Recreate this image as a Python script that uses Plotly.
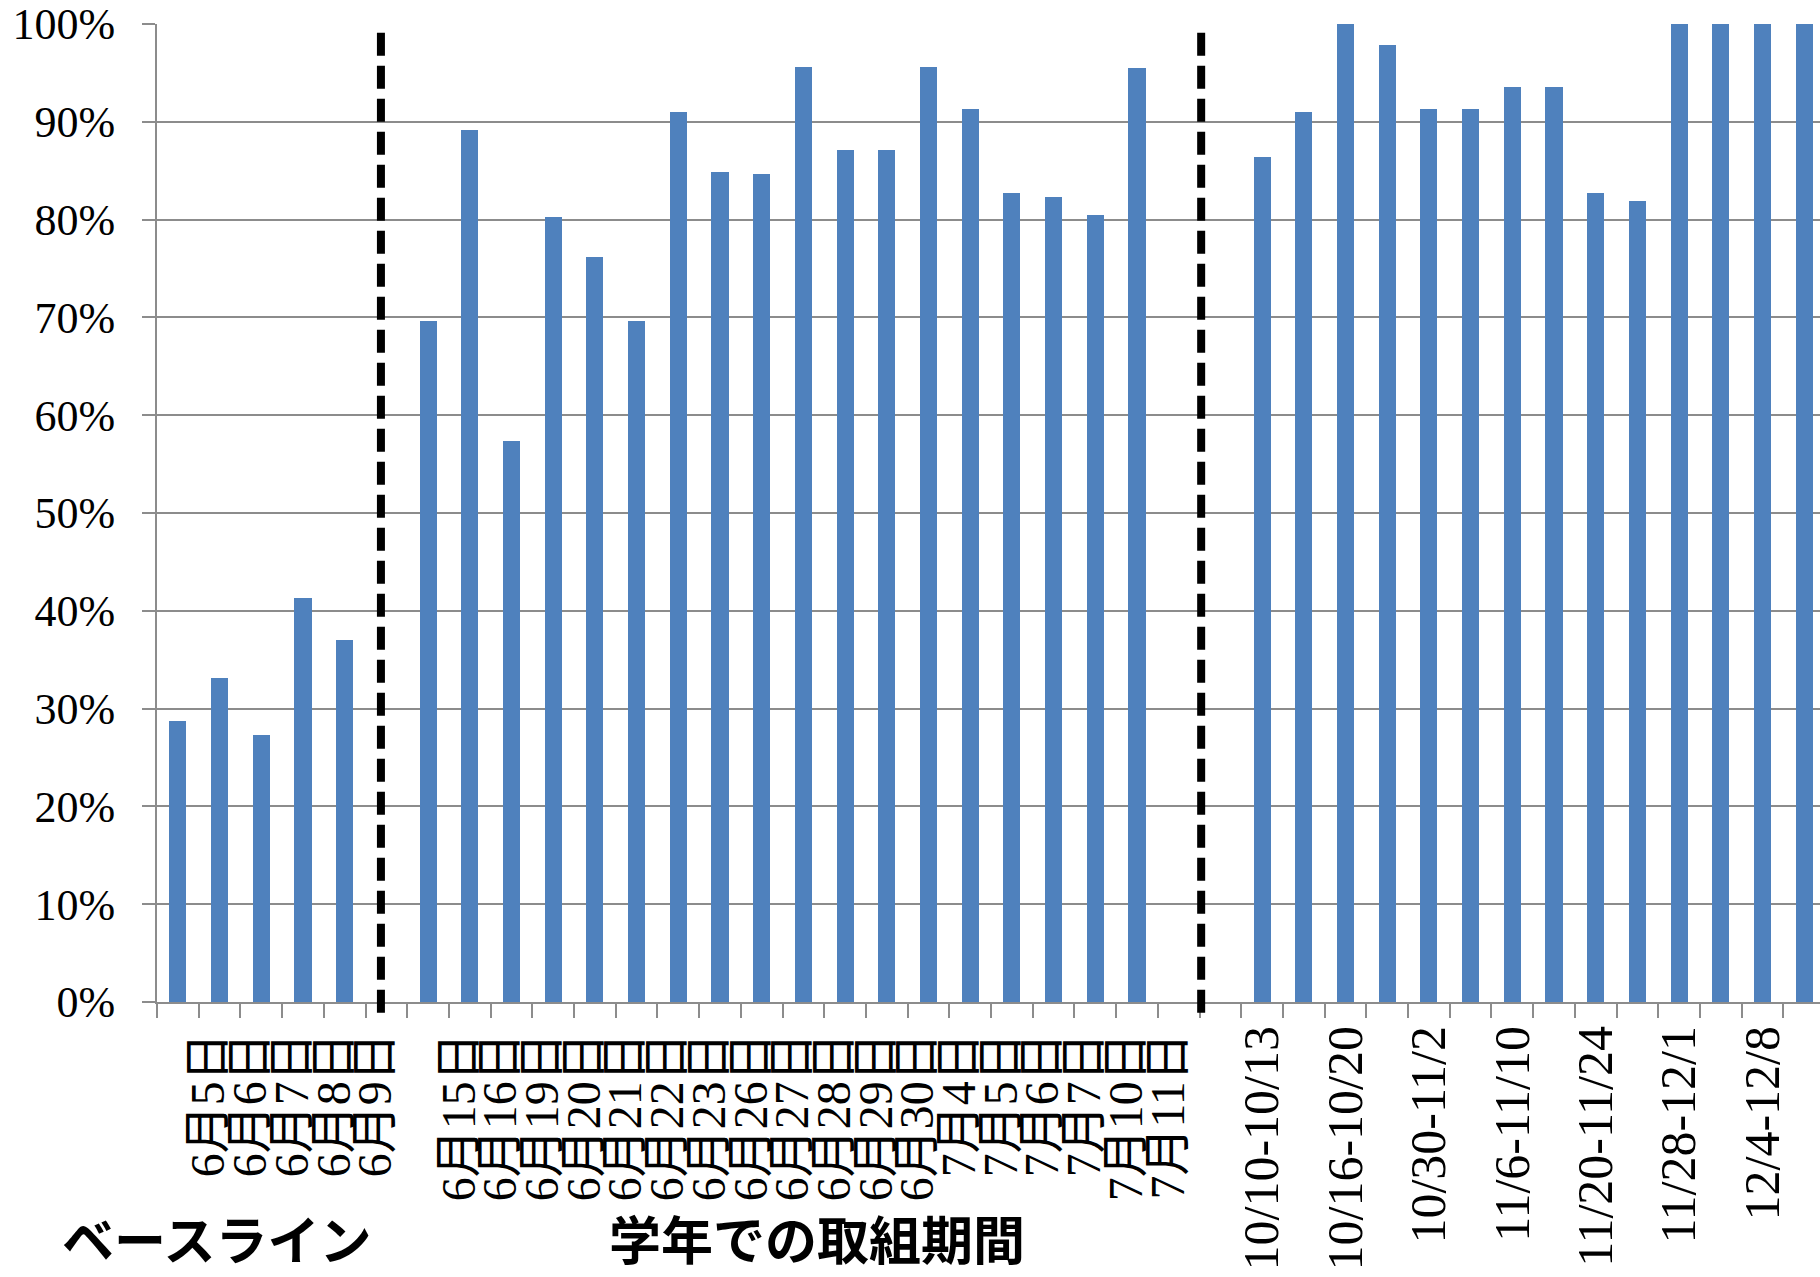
import numpy as np
import plotly.graph_objects as go

# ---------------- data ----------------
baseline_labels = ["6月5日", "6月6日", "6月7日", "6月8日", "6月9日"]
baseline_values = [28.7, 33.1, 27.3, 41.3, 37.0]

grade_labels = ["6月15日", "6月16日", "6月19日", "6月20日", "6月21日", "6月22日",
                "6月23日", "6月26日", "6月27日", "6月28日", "6月29日", "6月30日",
                "7月4日", "7月5日", "7月6日", "7月7日", "7月10日", "7月11日"]
grade_values = [69.6, 89.2, 57.4, 80.3, 76.2, 69.6, 91.0, 84.9, 84.7, 95.6,
                87.1, 87.1, 95.6, 91.3, 82.7, 82.3, 80.5, 95.5]

period_labels = ["10/10-10/13", "", "10/16-10/20", "", "10/30-11/2", "",
                 "11/6-11/10", "", "11/20-11/24", "", "11/28-12/1", "",
                 "12/4-12/8", ""]
period_values = [86.4, 91.0, 100, 97.9, 91.3, 91.3, 93.6, 93.6, 82.7, 81.9,
                 100, 100, 100, 100]

group_titles = ["ベースライン", "学年での取組期間"]
y_tick_values = [0, 10, 20, 30, 40, 50, 60, 70, 80, 90, 100]

gap_after_baseline = 1
gap_after_grade = 2
divider_positions = [4.87, 24.54]

# ---------------- assemble ----------------
labels = (baseline_labels + [""] * gap_after_baseline + grade_labels
          + [""] * gap_after_grade + period_labels)
values = (baseline_values + [None] * gap_after_baseline + grade_values
          + [None] * gap_after_grade + period_values)
pos = np.arange(len(labels))
n_first = len(baseline_labels) + gap_after_baseline + len(grade_labels) + gap_after_grade

x_range = [-0.5, 39.38]

BLUE = "#4F81BD"
GRID = "#8C8C8C"

fig = go.Figure()
# school-year sections on the first x axis
fig.add_trace(go.Bar(x=pos[:n_first], y=values[:n_first], width=0.41,
                     marker=dict(color=BLUE, line=dict(width=0)),
                     showlegend=False, hoverinfo="skip", xaxis="x", yaxis="y"))
# autumn period section on the overlaid x axis (own tick label style)
fig.add_trace(go.Bar(x=pos[n_first:], y=values[n_first:], width=0.41,
                     marker=dict(color=BLUE, line=dict(width=0)),
                     showlegend=False, hoverinfo="skip", xaxis="x2", yaxis="y"))

first_vals = [int(p) for p in pos[:n_first]]
first_text = labels[:n_first]
second_vals = [int(p) for p, l in zip(pos, labels) if p >= n_first and l]
second_text = [l for p, l in zip(pos, labels) if p >= n_first and l]

fig.update_layout(
    width=1820, height=1277,
    margin=dict(l=157, r=0, t=24, b=275),
    plot_bgcolor="white", paper_bgcolor="white",
    bargap=0, barmode="overlay",
    xaxis=dict(
        range=x_range, showgrid=False, zeroline=False,
        showline=True, linecolor=GRID, linewidth=2,
        tickmode="array", tickvals=first_vals, ticktext=first_text,
        ticks="", tickangle=-90,
        tickfont=dict(family="Liberation Serif, Noto Sans CJK JP", size=48, color="black"),
        ticklabelstandoff=10, ticklabelshift=31,
        minor=dict(tickmode="array", tickvals=list(np.arange(-0.5, len(labels), 1.0)),
                   ticks="outside", ticklen=14, tickcolor=GRID, tickwidth=1.5, showgrid=False),
    ),
    xaxis2=dict(
        overlaying="x", anchor="y", side="bottom", range=x_range,
        showgrid=False, zeroline=False, showline=False, ticks="",
        tickmode="array", tickvals=second_vals, ticktext=second_text,
        tickangle=-90,
        tickfont=dict(family="Liberation Serif", size=50, color="black"),
        ticklabelstandoff=13,
    ),
    yaxis=dict(
        range=[0, 100], tickmode="array", tickvals=y_tick_values,
        ticktext=[f"{v}%" for v in y_tick_values],
        showgrid=True, gridcolor=GRID, gridwidth=1.5,
        zeroline=False, showline=True, linecolor=GRID, linewidth=2,
        ticks="outside", ticklen=13, tickcolor=GRID, tickwidth=1.5,
        tickfont=dict(family="Liberation Serif", size=44, color="black"),
        ticklabelstandoff=18,
    ),
)

span = x_range[1] - x_range[0]
for d in divider_positions:
    xf = (d - x_range[0]) / span
    fig.add_shape(type="line", xref="x domain", yref="paper",
                  x0=xf, x1=xf, y0=-0.011, y1=0.997,
                  line=dict(color="black", width=8, dash="23px,10px"), layer="above")

title_x = [0.0355, 0.397]
for t, xc in zip(group_titles, title_x):
    fig.add_annotation(text=f"<b>{t}</b>", xref="paper", yref="paper", x=xc, y=-0.2800,
                       xanchor="center", yanchor="bottom", showarrow=False, borderpad=0,
                       font=dict(family="Noto Sans CJK JP", size=52, color="black"))

fig.write_html("out.html", config={"displayModeBar": False},
               post_script="document.body.style.margin='0';")
